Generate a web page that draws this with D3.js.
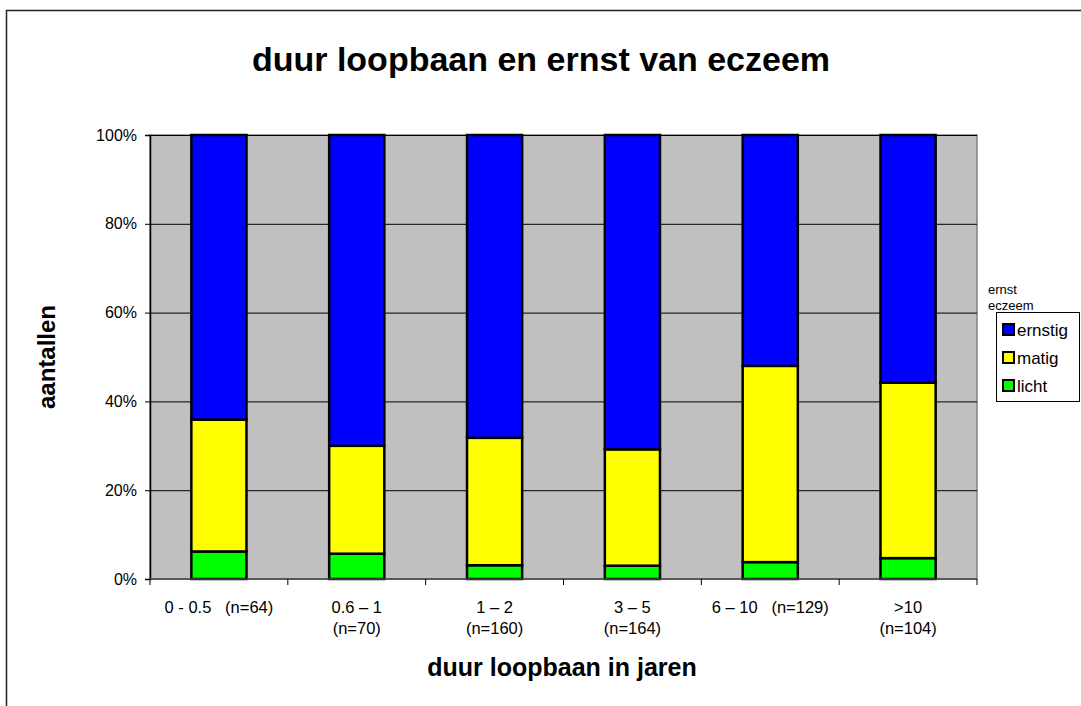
<!DOCTYPE html>
<html>
<head>
<meta charset="utf-8">
<script src="https://cdn.jsdelivr.net/npm/d3@7"></script>
<style>
  body { margin: 0; background: #fff; }
  text { font-family: "Liberation Sans", Arial, sans-serif; }
</style>
</head>
<body>
<svg id="chart"></svg>
<script>
const width = 1081;
const height = 706;

// data (percentages per class)
const categories = ["0 - 0.5", "0.6 – 1", "1 – 2", "3 – 5", "6 – 10", ">10"];
const sampleSizes = ["(n=64)", "(n=70)", "(n=160)", "(n=164)", "(n=129)", "(n=104)"];
const inlineN = [true, false, false, false, true, false];
const licht = [6.2, 5.7, 3.1, 3.0, 3.8, 4.7];
const matig = [29.7, 24.3, 28.7, 26.2, 44.2, 39.5];
const ernstig = [64.1, 70.0, 68.2, 70.8, 52.0, 55.8];
const seriesNames = ["licht", "matig", "ernstig"];
const seriesColors = ["#00ff00", "#ffff00", "#0000ff"];
const yTicks = [0, 20, 40, 60, 80, 100];

const margin = {left: 150, right: 977, top: 135, bottom: 579};

let svg = d3.select("#chart")
  .attr("width", width)
  .attr("height", height);

// outer frame
svg.append("rect")
  .attr("x", 6.5).attr("y", 10.5)
  .attr("width", 1100).attr("height", 720)
  .style("fill", "white")
  .style("stroke", "#222")
  .style("stroke-width", 1.5);

const x = d3.scaleBand()
  .domain(categories)
  .range([margin.left, margin.right])
  .paddingInner(0.6)
  .paddingOuter(0.3);

const xOuter = d3.scaleBand()
  .domain(categories)
  .range([margin.left, margin.right]);

const y = d3.scaleLinear()
  .domain([0, 100])
  .range([margin.bottom, margin.top]);

// plot background
svg.append("rect")
  .attr("x", margin.left).attr("y", margin.top)
  .attr("width", margin.right - margin.left)
  .attr("height", margin.bottom - margin.top)
  .style("fill", "#c0c0c0")
  .style("stroke", "#808080")
  .style("stroke-width", 1.5);

// gridlines
svg.append("g")
  .selectAll("line")
  .data(yTicks.slice(1))
  .join("line")
  .attr("x1", margin.left).attr("x2", margin.right)
  .attr("y1", d => y(d) + 0.5).attr("y2", d => y(d) + 0.5)
  .style("stroke", "#000")
  .style("stroke-width", 1);

// stacked bars
const rows = categories.map((c, i) => ({cat: c, licht: licht[i], matig: matig[i], ernstig: ernstig[i]}));
const stack = d3.stack().keys(seriesNames)(rows);

svg.append("g")
  .selectAll("g")
  .data(stack)
  .join("g")
  .style("fill", (d, i) => seriesColors[i])
  .selectAll("rect")
  .data(d => d)
  .join("rect")
  .attr("x", d => x(d.data.cat))
  .attr("width", x.bandwidth())
  .attr("y", d => y(d[1]))
  .attr("height", d => y(d[0]) - y(d[1]))
  .style("stroke", "#000")
  .style("stroke-width", 2.5);

// y axis
const yAxis = d3.axisLeft(y)
  .tickValues(yTicks)
  .tickFormat(d => d + "%")
  .tickSize(5)
  .tickPadding(8);

svg.append("g")
  .attr("transform", `translate(${margin.left},0)`)
  .call(yAxis)
  .call(g => g.select(".domain").style("stroke", "#000").style("stroke-width", 1.5))
  .call(g => g.selectAll("text").style("font-size", "16px").style("fill", "#000")
    .style("font-family", "'Liberation Sans', Arial, sans-serif"));

// x axis line + ticks at band edges
svg.append("line")
  .attr("x1", margin.left).attr("x2", margin.right)
  .attr("y1", margin.bottom).attr("y2", margin.bottom)
  .style("stroke", "#444").style("stroke-width", 1.5);

const edges = categories.map(c => xOuter(c)).concat([margin.right]);
svg.append("g")
  .selectAll("line")
  .data(edges)
  .join("line")
  .attr("x1", d => d).attr("x2", d => d)
  .attr("y1", margin.bottom).attr("y2", margin.bottom + 6)
  .style("stroke", "#000").style("stroke-width", 1);

// category labels
const labels = svg.append("g")
  .style("font-size", "16.5px")
  .attr("text-anchor", "middle");

categories.forEach((c, i) => {
  const cx = xOuter(c) + xOuter.bandwidth() / 2;
  if (inlineN[i]) {
    labels.append("text")
      .attr("x", cx).attr("y", 613)
      .style("white-space", "pre")
      .text(c + "   " + sampleSizes[i]);
  } else {
    labels.append("text").attr("x", cx).attr("y", 613).text(c);
    labels.append("text").attr("x", cx).attr("y", 634).text(sampleSizes[i]);
  }
});

// titles
svg.append("text")
  .attr("x", 541).attr("y", 71)
  .attr("text-anchor", "middle")
  .style("font-size", "34px")
  .style("font-weight", "bold")
  .text("duur loopbaan en ernst van eczeem");

svg.append("text")
  .attr("x", 562).attr("y", 676)
  .attr("text-anchor", "middle")
  .style("font-size", "25px")
  .style("font-weight", "bold")
  .text("duur loopbaan in jaren");

svg.append("text")
  .attr("transform", "translate(55,357) rotate(-90)")
  .attr("text-anchor", "middle")
  .style("font-size", "24px")
  .style("font-weight", "bold")
  .text("aantallen");

// legend
svg.append("text").attr("x", 988).attr("y", 294).style("font-size", "13px").text("ernst");
svg.append("text").attr("x", 988).attr("y", 310).style("font-size", "13px").text("eczeem");

svg.append("rect")
  .attr("x", 996.5).attr("y", 312.5)
  .attr("width", 83).attr("height", 89)
  .style("fill", "white")
  .style("stroke", "#000")
  .style("stroke-width", 1);

const legendOrder = [2, 1, 0];
const leg = svg.append("g")
  .selectAll("g")
  .data(legendOrder)
  .join("g")
  .attr("transform", (d, i) => `translate(1003,${329 + i * 28})`);

leg.append("rect")
  .attr("x", 0).attr("y", -5)
  .attr("width", 11).attr("height", 11)
  .style("fill", d => seriesColors[d])
  .style("stroke", "#000")
  .style("stroke-width", 2);

leg.append("text")
  .attr("x", 14).attr("y", 6.5)
  .style("font-size", "17px")
  .text(d => seriesNames[d]);
</script>
</body>
</html>
